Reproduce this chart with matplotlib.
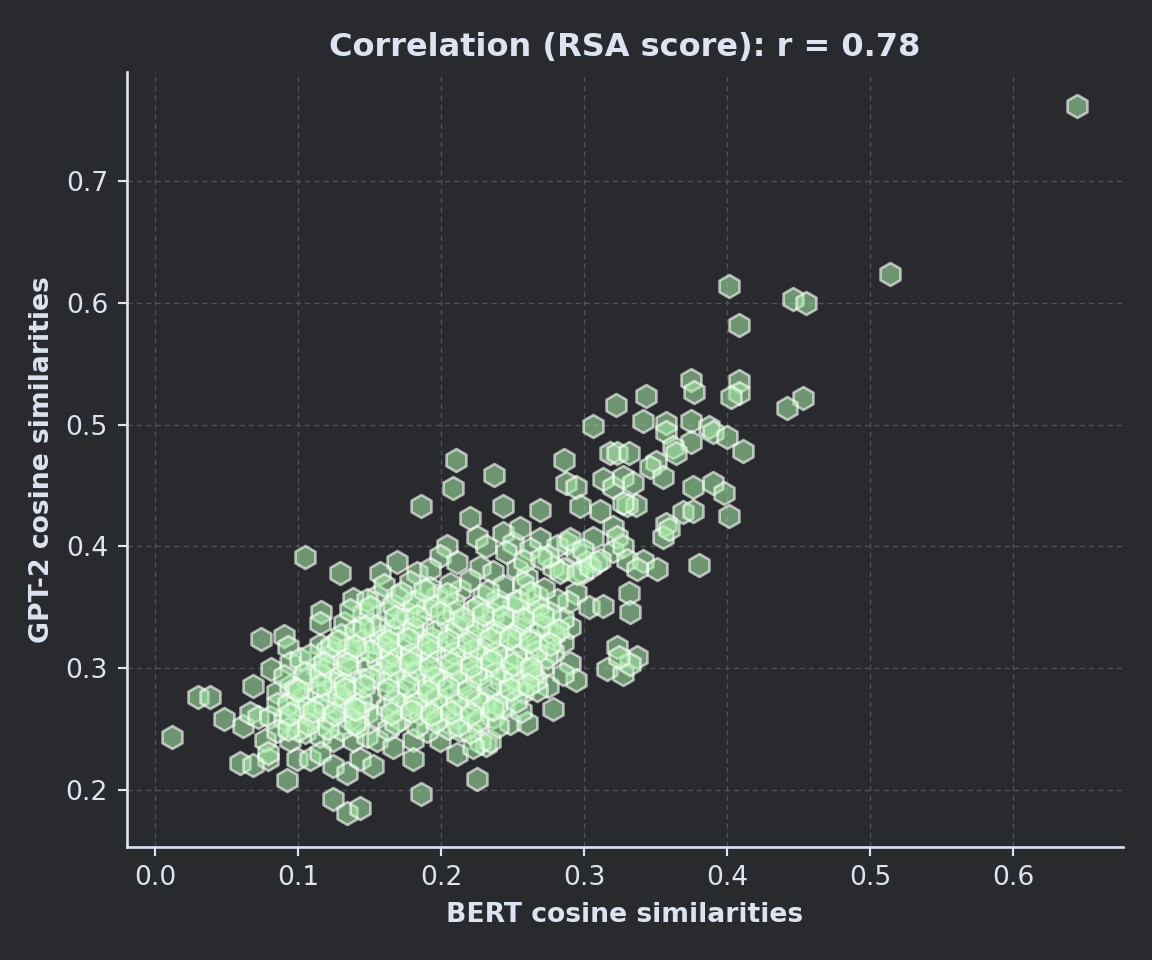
import matplotlib
matplotlib.use("Agg")
import matplotlib.pyplot as plt
import numpy as np

# ---- data: BERT (x) and GPT-2 (y) cosine similarities ----
upper_bert = [0.645, 0.514, 0.401, 0.446, 0.455, 0.408, 0.375, 0.377, 0.408, 0.408, 0.403, 0.453, 0.442,
              0.343, 0.322, 0.306, 0.341, 0.357, 0.357, 0.375, 0.387, 0.390, 0.400, 0.411, 0.375, 0.362, 0.364]
upper_gpt2 = [0.762, 0.624, 0.614, 0.603, 0.600, 0.582, 0.537, 0.527, 0.536, 0.526, 0.523, 0.522, 0.514,
              0.524, 0.516, 0.499, 0.503, 0.501, 0.494, 0.503, 0.498, 0.494, 0.490, 0.478, 0.486, 0.482, 0.477]

mid_bert = [0.318, 0.323, 0.331, 0.286, 0.350, 0.346, 0.355, 0.313, 0.320, 0.327, 0.334, 0.287, 0.294, 0.376, 0.390, 0.398,
            0.297, 0.311, 0.330, 0.336, 0.369, 0.376, 0.401, 0.357, 0.355, 0.359, 0.320, 0.323, 0.306, 0.380, 0.327,
            0.288, 0.294, 0.285, 0.320, 0.327, 0.330, 0.341, 0.351, 0.337, 0.302, 0.309, 0.299]
mid_gpt2 = [0.477, 0.477, 0.477, 0.471, 0.469, 0.465, 0.457, 0.455, 0.449, 0.457, 0.452, 0.452, 0.449, 0.449, 0.452, 0.444,
            0.433, 0.429, 0.434, 0.434, 0.428, 0.429, 0.425, 0.418, 0.408, 0.414, 0.416, 0.408, 0.407, 0.385, 0.436,
            0.403, 0.395, 0.381, 0.396, 0.400, 0.389, 0.388, 0.381, 0.381, 0.387, 0.387, 0.379]

right_bert = [0.294, 0.289, 0.303, 0.313, 0.331, 0.332, 0.290, 0.285, 0.323, 0.316, 0.327, 0.337, 0.332, 0.324, 0.290, 0.294,
              0.210, 0.237, 0.208, 0.186, 0.243, 0.269, 0.220]
right_gpt2 = [0.362, 0.354, 0.350, 0.351, 0.362, 0.346, 0.334, 0.321, 0.317, 0.299, 0.295, 0.309, 0.303, 0.309, 0.304, 0.290,
              0.471, 0.459, 0.448, 0.433, 0.433, 0.430, 0.423]

band_bert = [0.225, 0.231, 0.243, 0.250, 0.269, 0.281, 0.290, 0.299, 0.204, 0.199, 0.211, 0.169, 0.157, 0.183, 0.192,
             0.227, 0.236, 0.253, 0.260, 0.278, 0.283, 0.295, 0.304, 0.311, 0.255, 0.262, 0.275, 0.245, 0.258, 0.270]
band_gpt2 = [0.408, 0.400, 0.411, 0.403, 0.406, 0.400, 0.406, 0.397, 0.400, 0.392, 0.387, 0.387, 0.378, 0.378, 0.381,
             0.383, 0.379, 0.381, 0.375, 0.383, 0.379, 0.378, 0.383, 0.389, 0.415, 0.398, 0.392, 0.395, 0.388, 0.390]

left_bert = [0.012, 0.030, 0.038, 0.048, 0.061, 0.066, 0.072, 0.079, 0.059, 0.068, 0.092, 0.105, 0.129, 0.138, 0.116, 0.115, 0.132,
             0.074, 0.090, 0.093, 0.081, 0.068, 0.124, 0.134, 0.143, 0.186, 0.225, 0.231, 0.275, 0.285]
left_gpt2 = [0.243, 0.276, 0.276, 0.258, 0.252, 0.263, 0.260, 0.225, 0.222, 0.220, 0.208, 0.391, 0.378, 0.357, 0.346, 0.337, 0.337,
             0.324, 0.326, 0.317, 0.299, 0.285, 0.192, 0.181, 0.185, 0.196, 0.209, 0.237, 0.285, 0.295]

core_left_bert = [0.115, 0.120, 0.134, 0.145, 0.152, 0.157, 0.094, 0.101, 0.113, 0.121, 0.129, 0.136, 0.148, 0.155,
                  0.085, 0.094, 0.103, 0.113, 0.120, 0.131, 0.138, 0.150, 0.080, 0.090, 0.099, 0.110, 0.120, 0.127, 0.136, 0.148, 0.155,
                  0.077, 0.094, 0.105, 0.115, 0.124, 0.138, 0.148, 0.079, 0.099, 0.108, 0.115, 0.124, 0.134, 0.143, 0.152]
core_left_gpt2 = [0.319, 0.315, 0.307, 0.323, 0.321, 0.326, 0.304, 0.307, 0.301, 0.301, 0.293, 0.299, 0.301, 0.307,
                  0.280, 0.285, 0.276, 0.280, 0.282, 0.274, 0.282, 0.277, 0.260, 0.258, 0.266, 0.260, 0.258, 0.266, 0.258, 0.263, 0.260,
                  0.241, 0.241, 0.247, 0.244, 0.241, 0.241, 0.244, 0.230, 0.225, 0.225, 0.230, 0.219, 0.214, 0.225, 0.219]

core_bert = [0.155, 0.169, 0.183, 0.197, 0.213, 0.229, 0.239, 0.253, 0.267, 0.281,
             0.157, 0.173, 0.187, 0.204, 0.218, 0.232, 0.246, 0.260, 0.274, 0.285,
             0.159, 0.171, 0.185, 0.197, 0.213, 0.227, 0.239, 0.253, 0.267, 0.278,
             0.157, 0.169, 0.183, 0.194, 0.208, 0.220, 0.232, 0.246, 0.260, 0.271,
             0.169, 0.180, 0.192, 0.206, 0.220, 0.232, 0.246, 0.257, 0.267,
             0.171, 0.185, 0.197, 0.211, 0.225, 0.236, 0.248, 0.260, 0.278,
             0.155, 0.166, 0.180, 0.199, 0.213, 0.227, 0.234, 0.180, 0.211, 0.222]
core_gpt2 = [0.359, 0.359, 0.354, 0.359, 0.364, 0.359, 0.356, 0.354, 0.359, 0.356,
             0.334, 0.340, 0.334, 0.340, 0.337, 0.334, 0.337, 0.342, 0.334, 0.340,
             0.318, 0.321, 0.315, 0.321, 0.318, 0.315, 0.313, 0.321, 0.318, 0.313,
             0.296, 0.301, 0.299, 0.293, 0.299, 0.296, 0.301, 0.296, 0.299, 0.301,
             0.280, 0.274, 0.280, 0.277, 0.277, 0.274, 0.280, 0.280, 0.282,
             0.258, 0.263, 0.258, 0.260, 0.255, 0.260, 0.255, 0.255, 0.266,
             0.241, 0.235, 0.241, 0.241, 0.249, 0.239, 0.240, 0.225, 0.229, 0.235]

dense_bert = [0.160, 0.178, 0.192, 0.206, 0.220, 0.243, 0.257, 0.272,
              0.162, 0.176, 0.190, 0.208, 0.222, 0.236, 0.250, 0.264, 0.276,
              0.165, 0.180, 0.193, 0.207, 0.222, 0.236, 0.250, 0.263, 0.279, 0.130, 0.140,
              0.162, 0.176, 0.190, 0.204, 0.218, 0.232, 0.246, 0.260, 0.274, 0.125, 0.142, 0.108,
              0.162, 0.176, 0.188, 0.200, 0.214, 0.228, 0.242, 0.254, 0.266, 0.106, 0.125, 0.145, 0.090,
              0.162, 0.176, 0.190, 0.202, 0.216, 0.230, 0.244, 0.256, 0.085, 0.113, 0.133, 0.142, 0.105,
              0.163, 0.190, 0.205, 0.220, 0.100, 0.130, 0.142, 0.085,
              0.145, 0.150, 0.148]
dense_gpt2 = [0.368, 0.371, 0.366, 0.369, 0.372, 0.367, 0.370, 0.365,
              0.347, 0.345, 0.349, 0.346, 0.348, 0.344, 0.350, 0.347, 0.345,
              0.327, 0.329, 0.325, 0.328, 0.326, 0.330, 0.327, 0.324, 0.328, 0.327, 0.330,
              0.308, 0.310, 0.306, 0.309, 0.307, 0.311, 0.308, 0.305, 0.309, 0.312, 0.314, 0.311,
              0.289, 0.291, 0.287, 0.290, 0.288, 0.292, 0.289, 0.286, 0.290, 0.291, 0.288, 0.290, 0.293,
              0.268, 0.270, 0.266, 0.269, 0.267, 0.271, 0.268, 0.265, 0.270, 0.268, 0.271, 0.266, 0.267,
              0.250, 0.248, 0.251, 0.247, 0.249, 0.250, 0.252, 0.248,
              0.345, 0.336, 0.356]

inner_bert = [0.166, 0.181, 0.195, 0.209, 0.225, 0.240, 0.254, 0.268, 0.150, 0.136,
              0.167, 0.180, 0.196, 0.211, 0.225, 0.240, 0.255, 0.269, 0.282, 0.145, 0.123,
              0.165, 0.179, 0.193, 0.209, 0.223, 0.238, 0.252, 0.266, 0.135, 0.150, 0.105,
              0.166, 0.181, 0.195, 0.210, 0.224, 0.238, 0.251, 0.264, 0.115, 0.132, 0.150, 0.098,
              0.167, 0.182, 0.196, 0.210, 0.225, 0.239, 0.252, 0.118, 0.128, 0.144, 0.093,
              0.168, 0.183, 0.196, 0.212, 0.226, 0.240, 0.107, 0.121, 0.140, 0.093]
inner_gpt2 = [0.352, 0.354, 0.351, 0.353, 0.350, 0.352, 0.355, 0.351, 0.350, 0.348,
              0.331, 0.333, 0.330, 0.334, 0.332, 0.329, 0.332, 0.335, 0.331, 0.333, 0.318,
              0.313, 0.311, 0.314, 0.312, 0.315, 0.312, 0.310, 0.313, 0.316, 0.314, 0.296,
              0.294, 0.296, 0.292, 0.295, 0.293, 0.296, 0.292, 0.294, 0.295, 0.287, 0.292, 0.283,
              0.273, 0.271, 0.275, 0.272, 0.274, 0.270, 0.273, 0.270, 0.278, 0.272, 0.270,
              0.255, 0.252, 0.256, 0.253, 0.257, 0.252, 0.254, 0.251, 0.255, 0.250]

centre_bert = [0.172, 0.188, 0.204, 0.233, 0.262,
               0.168, 0.183, 0.199, 0.215, 0.229, 0.243, 0.257, 0.271,
               0.163, 0.177, 0.191, 0.205, 0.219, 0.234, 0.248, 0.262, 0.276, 0.128, 0.140,
               0.164, 0.178, 0.192, 0.207, 0.221, 0.235, 0.250, 0.263, 0.118, 0.134,
               0.163, 0.177, 0.191, 0.205, 0.219, 0.234, 0.248, 0.261, 0.100, 0.116, 0.133, 0.146,
               0.165, 0.179, 0.193, 0.207, 0.221, 0.236, 0.094, 0.110, 0.125, 0.140]
centre_gpt2 = [0.362, 0.364, 0.361, 0.363, 0.362,
               0.342, 0.343, 0.345, 0.341, 0.344, 0.342, 0.340, 0.343,
               0.322, 0.324, 0.320, 0.323, 0.321, 0.324, 0.325, 0.322, 0.320, 0.322, 0.318,
               0.303, 0.305, 0.301, 0.304, 0.302, 0.306, 0.303, 0.300, 0.304, 0.303,
               0.283, 0.285, 0.281, 0.284, 0.282, 0.285, 0.283, 0.286, 0.282, 0.286, 0.283, 0.285,
               0.263, 0.265, 0.262, 0.264, 0.262, 0.266, 0.262, 0.265, 0.262, 0.266]

title_text = "Correlation (RSA score): r = 0.78"
x_label = "BERT cosine similarities"
y_label = "GPT-2 cosine similarities"
x_ticks = [0.0, 0.1, 0.2, 0.3, 0.4, 0.5, 0.6]
y_ticks = [0.2, 0.3, 0.4, 0.5, 0.6, 0.7]

bert = np.array(upper_bert + mid_bert + right_bert + band_bert + left_bert
                + core_left_bert + core_bert + dense_bert + inner_bert + centre_bert)
gpt2 = np.array(upper_gpt2 + mid_gpt2 + right_gpt2 + band_gpt2 + left_gpt2
                + core_left_gpt2 + core_gpt2 + dense_gpt2 + inner_gpt2 + centre_gpt2)

# ---- style ----
BG = "#282a2d"
FG = "#dde3f0"

fig = plt.figure(figsize=(6, 5), dpi=192, facecolor=BG)
ax = fig.add_axes([0.110, 0.118, 0.865, 0.807])
ax.set_facecolor(BG)

ax.grid(True, linestyle=(0, (4, 3)), color="#505359", linewidth=0.5, zorder=0)
ax.set_axisbelow(True)

ax.scatter(bert, gpt2, marker="h", s=74,
           facecolors=[(0.655, 0.933, 0.655, 0.55)],
           edgecolors=[(1.0, 1.0, 1.0, 0.62)],
           linewidths=1.0, zorder=3)

ax.set_xlim(-0.02, 0.677)
ax.set_ylim(0.153, 0.79)
ax.set_xticks(x_ticks)
ax.set_yticks(y_ticks)
ax.set_xticklabels([f"{t:.1f}" for t in x_ticks])
ax.set_yticklabels([f"{t:.1f}" for t in y_ticks])

for side in ("top", "right"):
    ax.spines[side].set_visible(False)
for side in ("left", "bottom"):
    ax.spines[side].set_color(FG)
    ax.spines[side].set_linewidth(1.0)

ax.tick_params(colors=FG, labelsize=10, length=3.5, width=0.8)
ax.set_xlabel(x_label, color=FG, fontsize=10, fontweight="bold", labelpad=4)
ax.set_ylabel(y_label, color=FG, fontsize=10, fontweight="bold", labelpad=4)
ax.set_title(title_text, color=FG, fontsize=12, fontweight="bold", pad=6)

fig.savefig("out.png", dpi=192, facecolor=BG)
